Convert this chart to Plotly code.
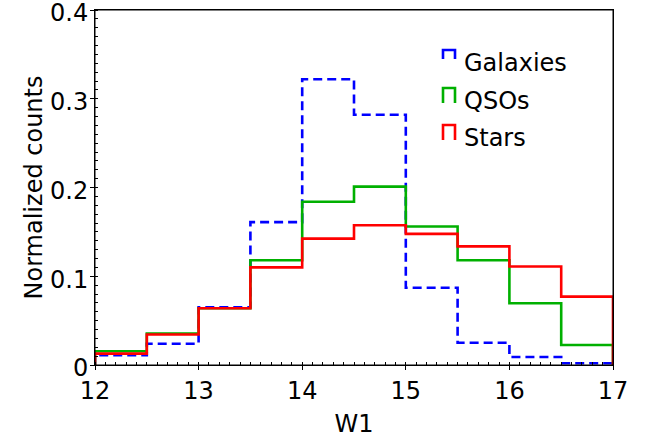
import plotly.graph_objects as go

# ---- data ----
bin_edges = [12.0, 12.5, 13.0, 13.5, 14.0, 14.5, 15.0, 15.5, 16.0, 16.5, 17.0]
galaxies = [0.011, 0.024, 0.065, 0.161, 0.322, 0.282, 0.087, 0.025, 0.009, 0.002]
qsos = [0.0155, 0.0355, 0.064, 0.118, 0.184, 0.201, 0.156, 0.118, 0.0695, 0.0225]
stars = [0.0128, 0.0343, 0.064, 0.110, 0.1424, 0.1575, 0.1477, 0.1337, 0.111, 0.077]
series_names = ["Galaxies", "QSOs", "Stars"]
series_colors = ["#0000ff", "#00b000", "#ff0000"]
series_dash = ["9px,5px", "solid", "solid"]
y_tickvals = [0, 0.1, 0.2, 0.3, 0.4]
y_ticktext = ["0", "0.1", "0.2", "0.3", "0.4"]
x_tickvals = [12, 13, 14, 15, 16, 17]
x_ticktext = ["12", "13", "14", "15", "16", "17"]

FONT = "DejaVu Sans"
fig = go.Figure()

for name, vals, col, dash in zip(series_names, [galaxies, qsos, stars], series_colors, series_dash):
    xs = [bin_edges[0]] + bin_edges + [bin_edges[-1]]
    ys = [0] + vals + [vals[-1], 0]
    fig.add_trace(go.Scatter(x=xs, y=ys, mode="lines", name=name,
                             line=dict(color=col, width=2.6, dash=dash, shape="hv"),
                             showlegend=False))

axis_common = dict(showline=True, linecolor="black", linewidth=1, mirror=True,
                   showgrid=False, zeroline=False, automargin=False,
                   ticklabeloverflow="allow",
                   tickfont=dict(family=FONT, size=24, color="black"),
                   ticks="outside", ticklen=4, tickwidth=1, tickcolor="black")

fig.update_layout(
    width=647, height=439,
    margin=dict(l=95, r=34, t=10, b=74),
    plot_bgcolor="white", paper_bgcolor="white",
    font=dict(family=FONT, size=24, color="black"),
    xaxis=dict(range=[12, 17], tickvals=x_tickvals, ticktext=x_ticktext,
               title=dict(text="W1", font=dict(family=FONT, size=24), standoff=11),
               minor=dict(ticks="inside", ticklen=3, dtick=0.1, tick0=12, tickcolor="black", tickwidth=1),
               **axis_common),
    yaxis=dict(range=[0, 0.4], tickvals=y_tickvals, ticktext=y_ticktext,
               ticklabelstandoff=-3, ticklabelshift=3,
               title=dict(text="Normalized counts", font=dict(family=FONT, size=24), standoff=0),
               minor=dict(ticks="inside", ticklen=3, dtick=0.01, tick0=0, tickcolor="black", tickwidth=1),
               **axis_common),
)

# legend drawn as step-patch handles + labels
shapes = [dict(type="rect", xref="paper", yref="paper", x0=0, x1=1, y0=0, y1=1,
               line=dict(color="black", width=1), layer="above")]
annotations = []
leg_x0 = (443 - 95) / 518.0
leg_x1 = (455 - 95) / 518.0
text_x = (462 - 95) / 518.0
centers_px = [63, 101, 138]
for name, col, dash, cy in zip(series_names, series_colors, series_dash, centers_px):
    ytop = (365 - (cy - 13)) / 355.0
    ybot = (365 - (cy + 2)) / 355.0
    if name == "Galaxies":
        ybot = (365 - (cy - 4)) / 355.0
    shapes.append(dict(type="path", xref="paper", yref="paper",
                       path=f"M {leg_x0} {ybot} L {leg_x0} {ytop} L {leg_x1} {ytop} L {leg_x1} {ybot}",
                       line=dict(color=col, width=2.6)))
    annotations.append(dict(xref="paper", yref="paper", x=text_x, y=(365 - cy) / 355.0,
                            text=name, showarrow=False, xanchor="left", yanchor="middle",
                            font=dict(family=FONT, size=24, color="black")))
fig.update_layout(shapes=shapes, annotations=annotations)

fig.write_html("out.html", config={"displayModeBar": False},
               post_script="document.body.style.margin='0';document.body.style.padding='0';")
